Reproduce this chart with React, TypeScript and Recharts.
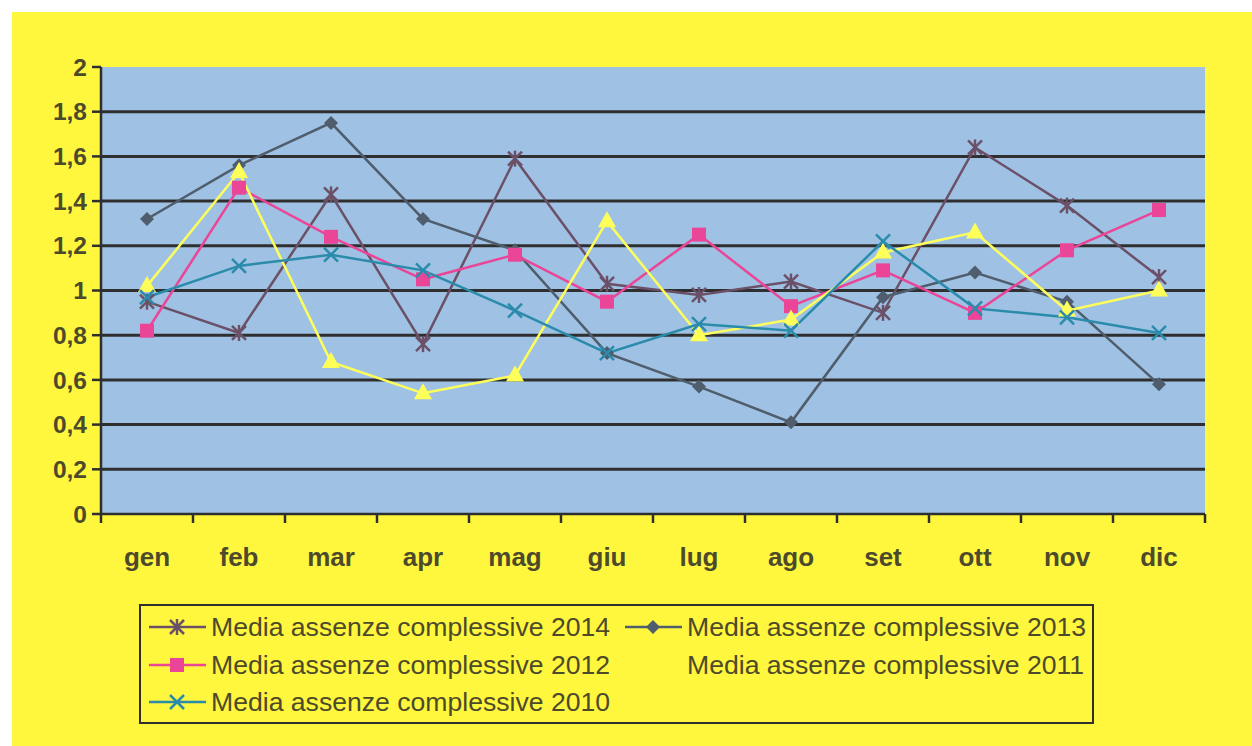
import React from 'react';
import { LineChart, Line, XAxis, YAxis, CartesianGrid, ReferenceLine } from 'recharts';

const MONTHS = ['gen', 'feb', 'mar', 'apr', 'mag', 'giu', 'lug', 'ago', 'set', 'ott', 'nov', 'dic'];
const S2014 = [0.95, 0.81, 1.43, 0.76, 1.59, 1.03, 0.98, 1.04, 0.9, 1.64, 1.38, 1.06];
const S2013 = [1.32, 1.56, 1.75, 1.32, 1.18, 0.72, 0.57, 0.41, 0.97, 1.08, 0.95, 0.58];
const S2012 = [0.82, 1.46, 1.24, 1.05, 1.16, 0.95, 1.25, 0.93, 1.09, 0.9, 1.18, 1.36];
const S2011 = [1.02, 1.53, 0.68, 0.54, 0.62, 1.31, 0.8, 0.87, 1.17, 1.26, 0.91, 1.0];
const S2010 = [0.97, 1.11, 1.16, 1.09, 0.91, 0.72, 0.85, 0.82, 1.22, 0.92, 0.88, 0.81];
const Y_TICKS = [0, 0.2, 0.4, 0.6, 0.8, 1, 1.2, 1.4, 1.6, 1.8, 2];
const GRID_VALUES = [0.2, 0.4, 0.6, 0.8, 1, 1.2, 1.4, 1.6, 1.8];

const SERIES = [
  { key: 's2014', name: 'Media assenze complessive 2014', color: '#6b5068', marker: 'star' },
  { key: 's2013', name: 'Media assenze complessive 2013', color: '#4f5d6c', marker: 'diamond' },
  { key: 's2012', name: 'Media assenze complessive 2012', color: '#ea4596', marker: 'square' },
  { key: 's2011', name: 'Media assenze complessive 2011', color: '#ffff5a', marker: 'triangle' },
  { key: 's2010', name: 'Media assenze complessive 2010', color: '#2a8bab', marker: 'cross' },
];

const data = MONTHS.map((m, i) => ({
  m,
  s2014: S2014[i],
  s2013: S2013[i],
  s2012: S2012[i],
  s2011: S2011[i],
  s2010: S2010[i],
}));

const TEXT = '#4d4a2c';
const DARK = '#2f2f2f';
const BG = '#fff73e';
const FONT = '"Liberation Sans", Arial, sans-serif';

const CW = 1240;
const CH = 734;
const M_TOP = 55;
const M_RIGHT = 47;
const Y_W = 89;
const X_H = 232;
const HALF_BAND = (CW - M_RIGHT - Y_W) / MONTHS.length / 2;

function Marker({ type, cx, cy, color }: { type: string; cx: number; cy: number; color: string }) {
  if (cx == null || cy == null) return null;
  const r = 7;
  if (type === 'star') {
    return (
      <g stroke={color} strokeWidth={2.5}>
        <line x1={cx - r} y1={cy - r} x2={cx + r} y2={cy + r} />
        <line x1={cx - r} y1={cy + r} x2={cx + r} y2={cy - r} />
        <line x1={cx} y1={cy - r - 1} x2={cx} y2={cy + r + 1} />
      </g>
    );
  }
  if (type === 'cross') {
    return (
      <g stroke={color} strokeWidth={2.5}>
        <line x1={cx - r} y1={cy - r} x2={cx + r} y2={cy + r} />
        <line x1={cx - r} y1={cy + r} x2={cx + r} y2={cy - r} />
      </g>
    );
  }
  if (type === 'diamond') {
    return <polygon points={`${cx},${cy - r} ${cx + r},${cy} ${cx},${cy + r} ${cx - r},${cy}`} fill={color} />;
  }
  if (type === 'square') {
    return <rect x={cx - 7} y={cy - 7} width={14} height={14} fill={color} />;
  }
  return <polygon points={`${cx},${cy - 10} ${cx + 9},${cy + 6} ${cx - 9},${cy + 6}`} fill={color} />;
}

function XTick(props: any) {
  const { x, y, payload, index } = props;
  const last = index === MONTHS.length - 1;
  return (
    <g>
      <line x1={x - HALF_BAND} y1={y} x2={x - HALF_BAND} y2={y + 9} stroke={DARK} strokeWidth={2.5} />
      {last && <line x1={x + HALF_BAND} y1={y} x2={x + HALF_BAND} y2={y + 9} stroke={DARK} strokeWidth={2.5} />}
      <text x={x} y={y + 52} textAnchor="middle" fill={TEXT} fontFamily={FONT} fontWeight="bold" fontSize={26}>
        {payload.value}
      </text>
    </g>
  );
}

function LegendItem({ s, left, top }: { s: (typeof SERIES)[number]; left: number; top: number }) {
  const c = s.key === 's2011' ? BG : s.color;
  return (
    <div style={{ position: 'absolute', left, top, height: 30, display: 'flex', alignItems: 'center', whiteSpace: 'nowrap' }}>
      <svg width={58} height={30} style={{ display: 'block' }}>
        <line x1={0} y1={15} x2={57} y2={15} stroke={c} strokeWidth={2.5} />
        <Marker type={s.marker} cx={28} cy={15} color={c} />
      </svg>
      <span style={{ marginLeft: 4, fontFamily: FONT, fontSize: 26.6, color: TEXT }}>{s.name}</span>
    </div>
  );
}

export default function App() {
  const byKey = (k: string) => SERIES.find((s) => s.key === k)!;
  return (
    <div style={{ position: 'absolute', left: 0, top: 0, width: 1252, height: 746, background: '#ffffff', overflow: 'hidden' }}>
      <div style={{ position: 'absolute', left: 12, top: 12, width: CW, height: CH, background: BG }}>
        <LineChart width={CW} height={CH} data={data} margin={{ top: M_TOP, right: M_RIGHT, bottom: 0, left: 0 }}>
          <CartesianGrid horizontal={false} vertical={false} fill="#9fc2e4" fillOpacity={1} />
          {GRID_VALUES.map((v) => (
            <ReferenceLine key={v} y={v} stroke={DARK} strokeWidth={3} ifOverflow="visible" />
          ))}
          <XAxis
            dataKey="m"
            scale="band"
            height={X_H}
            axisLine={{ stroke: DARK, strokeWidth: 2.5 }}
            tickLine={false}
            tickSize={0}
            tickMargin={0}
            interval={0}
            tick={<XTick />}
          />
          <YAxis
            width={Y_W}
            domain={[0, 2]}
            ticks={Y_TICKS}
            interval={0}
            axisLine={{ stroke: DARK, strokeWidth: 2.5 }}
            tickLine={{ stroke: DARK, strokeWidth: 2.5 }}
            tickSize={9}
            tickMargin={5}
            tickFormatter={(v: number) => String(v).replace('.', ',')}
            tick={{ fill: TEXT, fontFamily: FONT, fontWeight: 'bold', fontSize: 24.5 }}
          />
          {SERIES.map((s) => (
            <Line
              key={s.key}
              dataKey={s.key}
              name={s.name}
              stroke={s.color}
              strokeWidth={2.5}
              isAnimationActive={false}
              dot={(p: any) => <Marker key={`${s.key}-${p.index}`} type={s.marker} cx={p.cx} cy={p.cy} color={s.color} />}
              activeDot={false}
            />
          ))}
        </LineChart>
        <div style={{ position: 'absolute', left: 127, top: 592, width: 955, height: 120, border: `2.5px solid ${DARK}`, boxSizing: 'border-box' }}>
          <LegendItem s={byKey('s2014')} left={8} top={6} />
          <LegendItem s={byKey('s2013')} left={484} top={6} />
          <LegendItem s={byKey('s2012')} left={8} top={44} />
          <LegendItem s={byKey('s2011')} left={484} top={44} />
          <LegendItem s={byKey('s2010')} left={8} top={81} />
        </div>
      </div>
    </div>
  );
}
